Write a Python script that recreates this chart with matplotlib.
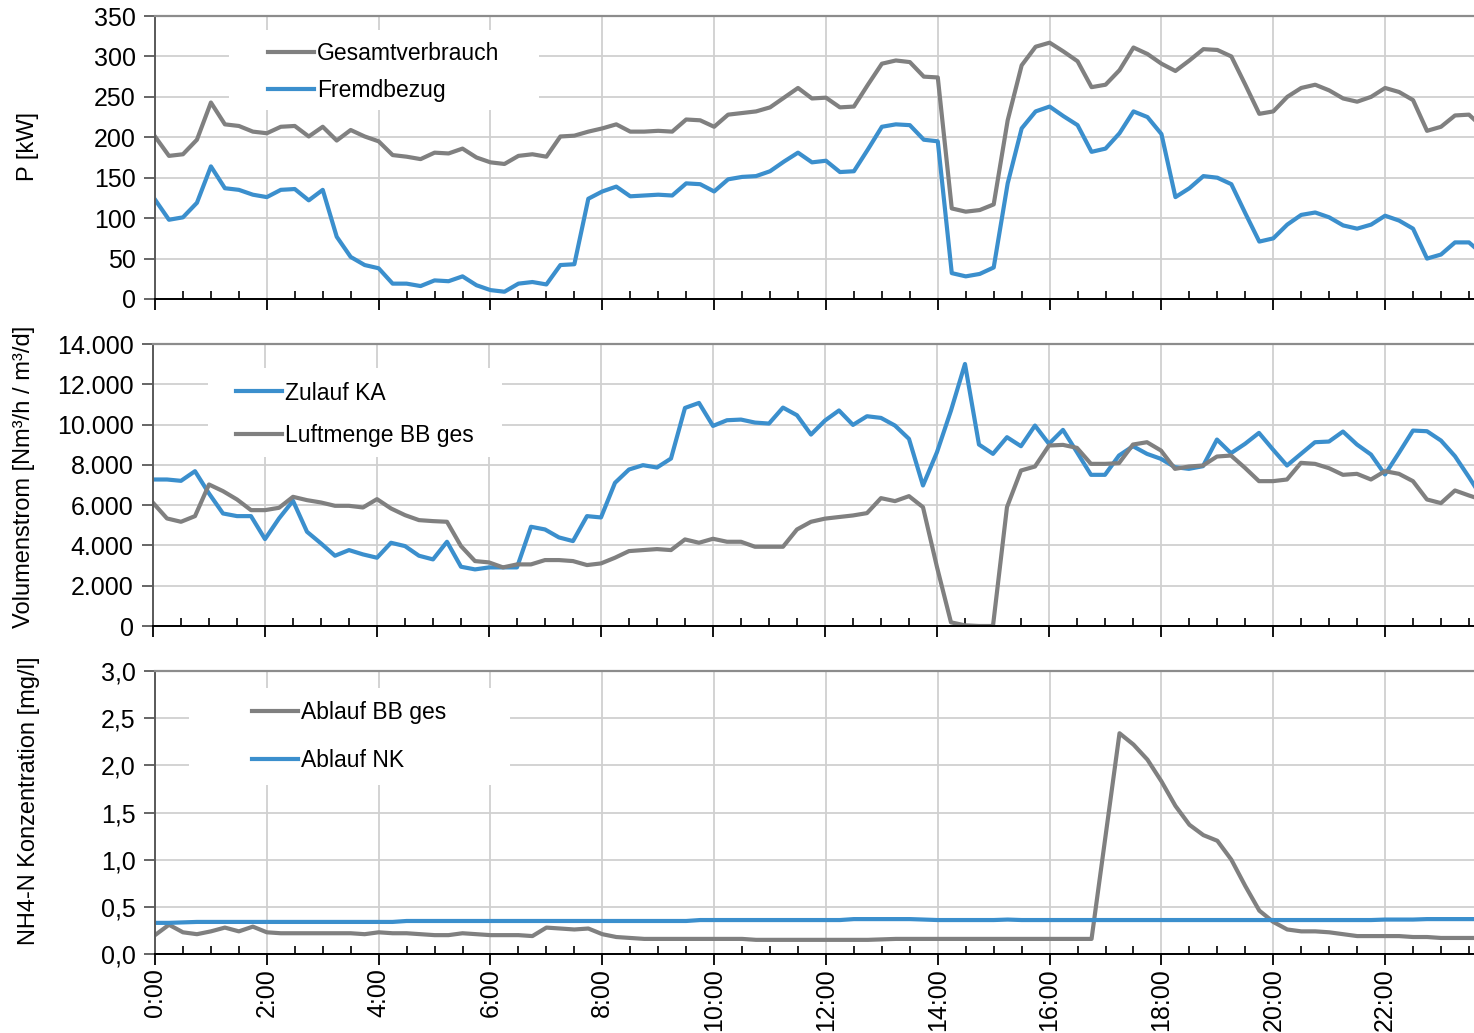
import matplotlib
matplotlib.use("Agg")
import matplotlib.pyplot as plt
import numpy as np
from matplotlib.patches import Rectangle
from matplotlib.ticker import MultipleLocator, FuncFormatter

plt.rcParams["font.family"] = ["Liberation Sans", "DejaVu Sans"]

# 15-minute values, 0:00 ... 23:45
hours = np.arange(96) * 0.25

gesamtverbrauch = [
    201, 177, 179, 197, 243, 216, 214, 207, 205, 213,
    214, 201, 213, 196, 209, 201, 195, 178, 176, 173,
    181, 180, 186, 175, 169, 167, 177, 179, 176, 201,
    202, 207, 211, 216, 207, 207, 208, 207, 222, 221,
    213, 228, 230, 232, 237, 249, 261, 248, 249, 237,
    238, 265, 291, 295, 293, 275, 274, 112, 108, 110,
    117, 221, 289, 312, 317, 306, 294, 262, 265, 283,
    311, 303, 291, 282, 295, 309, 308, 300, 265, 229,
    232, 250, 261, 265, 258, 248, 244, 250, 261, 256,
    246, 208, 213, 227, 228, 212,
]
fremdbezug = [
    123, 98, 101, 119, 164, 137, 135, 129, 126, 135,
    136, 122, 135, 77, 52, 42, 38, 19, 19, 16,
    23, 22, 28, 17, 11, 9, 19, 21, 18, 42,
    43, 124, 133, 139, 127, 128, 129, 128, 143, 142,
    133, 148, 151, 152, 158, 170, 181, 169, 171, 157,
    158, 185, 213, 216, 215, 197, 195, 32, 28, 31,
    39, 143, 211, 232, 238, 226, 215, 182, 186, 205,
    232, 225, 204, 126, 137, 152, 150, 142, 106, 71,
    75, 92, 104, 107, 101, 91, 87, 92, 103, 97,
    87, 50, 55, 70, 70, 55,
]
zulauf_ka = [
    7273, 7273, 7207, 7686, 6579, 5587, 5455, 5455, 4314, 5339,
    6215, 4678, 4099, 3488, 3769, 3554, 3389, 4132, 3967, 3488,
    3306, 4182, 2942, 2810, 2909, 2909, 2909, 4926, 4793, 4397,
    4215, 5455, 5389, 7108, 7769, 7984, 7868, 8314, 10826, 11075,
    9934, 10215, 10248, 10099, 10050, 10843, 10463, 9504, 10200, 10700,
    9984, 10414, 10331, 9951, 9290, 6976, 8629, 10695, 13009, 9009,
    8546, 9373, 8926, 9951, 9042, 9736, 8629, 7505, 7505, 8463,
    8926, 8546, 8298, 7885, 7802, 7934, 9257, 8579, 9042, 9587,
    8761, 7967, 8546, 9124, 9157, 9653, 9009, 8513, 7521, 8596,
    9703, 9670, 9207, 8430, 7389, 6300,
]
luftmenge_bb = [
    6116, 5339, 5174, 5455, 7025, 6695, 6281, 5752, 5752, 5868,
    6413, 6248, 6132, 5967, 5967, 5884, 6298, 5835, 5504, 5256,
    5207, 5174, 3967, 3223, 3157, 2909, 3058, 3058, 3273, 3273,
    3223, 3025, 3107, 3389, 3719, 3769, 3818, 3769, 4298, 4132,
    4331, 4182, 4182, 3934, 3934, 3934, 4793, 5174, 5330, 5410,
    5488, 5604, 6348, 6199, 6447, 5901, 2926, 182, 33, 0,
    0, 5901, 7719, 7918, 8959, 8992, 8844, 8050, 8050, 8083,
    9009, 9124, 8711, 7802, 7918, 7967, 8414, 8463, 7852, 7191,
    7191, 7273, 8100, 8050, 7835, 7505, 7554, 7273, 7686, 7554,
    7191, 6281, 6100, 6728, 6480, 6250,
]
ablauf_bb = [
    0.20, 0.31, 0.23, 0.21, 0.24, 0.28, 0.24, 0.29, 0.23, 0.22,
    0.22, 0.22, 0.22, 0.22, 0.22, 0.21, 0.23, 0.22, 0.22, 0.21,
    0.20, 0.20, 0.22, 0.21, 0.20, 0.20, 0.20, 0.19, 0.28, 0.27,
    0.26, 0.27, 0.21, 0.18, 0.17, 0.16, 0.16, 0.16, 0.16, 0.16,
    0.16, 0.16, 0.16, 0.15, 0.15, 0.15, 0.15, 0.15, 0.15, 0.15,
    0.15, 0.15, 0.155, 0.16, 0.16, 0.16, 0.16, 0.16, 0.16, 0.16,
    0.16, 0.16, 0.16, 0.16, 0.16, 0.16, 0.16, 0.16, 1.25, 2.34,
    2.22, 2.06, 1.83, 1.57, 1.37, 1.26, 1.20, 1.00, 0.72, 0.46,
    0.34, 0.26, 0.24, 0.24, 0.23, 0.21, 0.19, 0.19, 0.19, 0.19,
    0.18, 0.18, 0.17, 0.17, 0.17, 0.17,
]
ablauf_nk = [
    0.33, 0.33, 0.335, 0.34, 0.34, 0.34, 0.34, 0.34, 0.34, 0.34,
    0.34, 0.34, 0.34, 0.34, 0.34, 0.34, 0.34, 0.34, 0.35, 0.35,
    0.35, 0.35, 0.35, 0.35, 0.35, 0.35, 0.35, 0.35, 0.35, 0.35,
    0.35, 0.35, 0.35, 0.35, 0.35, 0.35, 0.35, 0.35, 0.35, 0.36,
    0.36, 0.36, 0.36, 0.36, 0.36, 0.36, 0.36, 0.36, 0.36, 0.36,
    0.37, 0.37, 0.37, 0.37, 0.37, 0.365, 0.36, 0.36, 0.36, 0.36,
    0.36, 0.365, 0.36, 0.36, 0.36, 0.36, 0.36, 0.36, 0.36, 0.36,
    0.36, 0.36, 0.36, 0.36, 0.36, 0.36, 0.36, 0.36, 0.36, 0.36,
    0.36, 0.36, 0.36, 0.36, 0.36, 0.36, 0.36, 0.36, 0.365, 0.365,
    0.365, 0.37, 0.37, 0.37, 0.37, 0.37,
]

GRAY = "#808080"
BLUE = "#3b8fcd"
GRID = "#d0d0d0"
TICK_FS = 18
LABEL_FS = 17
LEG_FS = 16.5

W, H = 1474, 1033
fig = plt.figure(figsize=(W / 100, H / 100), dpi=100)


def px_axes(left, top, bottom, right=W):
    return fig.add_axes([left / W, 1 - bottom / H, (right - left) / W, (bottom - top) / H])


ax1 = px_axes(155, 16, 299)
ax2 = px_axes(153, 344, 626)
ax3 = px_axes(155, 671, 954)

ax1.plot(hours, gesamtverbrauch, color=GRAY, lw=3, label="Gesamtverbrauch", zorder=2)
ax1.plot(hours, fremdbezug, color=BLUE, lw=3, label="Fremdbezug", zorder=2)

ax2.plot(hours, zulauf_ka, color=BLUE, lw=3, label="Zulauf KA", zorder=2)
ax2.plot(hours, luftmenge_bb, color=GRAY, lw=3, label="Luftmenge BB ges", zorder=2.1)

ax3.plot(hours, ablauf_bb, color=GRAY, lw=3, label="Ablauf BB ges", zorder=2)
ax3.plot(hours, ablauf_nk, color=BLUE, lw=3, label="Ablauf NK", zorder=2.1)

ax1.set_ylim(0, 350)
ax1.yaxis.set_major_locator(MultipleLocator(50))
ax1.set_ylabel("P [kW]", fontsize=LABEL_FS)
ax1.yaxis.set_label_coords(-0.088, 0.54)

ax2.set_ylim(0, 14000)
ax2.yaxis.set_major_locator(MultipleLocator(2000))
ax2.yaxis.set_major_formatter(FuncFormatter(lambda v, p: f"{v:,.0f}".replace(",", ".")))
ax2.set_ylabel("Volumenstrom [Nm³/h / m³/d]", fontsize=LABEL_FS)
ax2.yaxis.set_label_coords(-0.089, 0.528)

ax3.set_ylim(0, 3)
ax3.yaxis.set_major_locator(MultipleLocator(0.5))
ax3.yaxis.set_major_formatter(FuncFormatter(lambda v, p: f"{v:.1f}".replace(".", ",")))
ax3.set_ylabel("NH4-N Konzentration [mg/l]", fontsize=LABEL_FS)
ax3.yaxis.set_label_coords(-0.087, 0.54)

# legend boxes (white patch hides the grid) in axes fractions
legend_cfg = [
    (ax1, (0.056, 0.668, 0.235, 0.283), (0.0857, 0.909), 0.64),
    (ax2, (0.042, 0.599, 0.222, 0.316), (0.0628, 0.867), 0.87),
    (ax3, (0.026, 0.597, 0.243, 0.343), (0.0735, 0.893), 1.08),
]

for ax, box, anchor, spacing in legend_cfg:
    ax.set_xlim(0, 23.59)
    ax.xaxis.set_major_locator(MultipleLocator(2))
    ax.xaxis.set_minor_locator(MultipleLocator(0.5))
    ax.xaxis.set_major_formatter(FuncFormatter(lambda v, p: f"{int(round(v))}:00"))
    ax.set_axisbelow(True)
    ax.grid(True, which="major", color=GRID, lw=1.3)
    ax.tick_params(axis="x", which="major", direction="out", length=8, width=1.3,
                   color="black", labelsize=TICK_FS, labelrotation=90, pad=2)
    ax.tick_params(axis="x", which="minor", direction="in", length=6, width=1.2, color="black")
    ax.tick_params(axis="y", which="major", direction="out", length=8, width=1.3,
                   color="#595959", labelsize=TICK_FS, pad=6)
    ax.spines["right"].set_visible(False)
    ax.spines["top"].set_color("#8c8c8c")
    ax.spines["top"].set_linewidth(1.6)
    ax.spines["left"].set_color("#595959")
    ax.spines["left"].set_linewidth(1.4)
    ax.spines["bottom"].set_color("black")
    ax.spines["bottom"].set_linewidth(1.4)
    ax.add_patch(Rectangle(box[:2], box[2], box[3], transform=ax.transAxes,
                           facecolor="white", edgecolor="none", zorder=1))
    leg = ax.legend(loc="upper left", bbox_to_anchor=anchor, frameon=False,
                    fontsize=LEG_FS, borderpad=0, borderaxespad=0,
                    handlelength=2.0, handletextpad=0.15, labelspacing=spacing)
    leg.set_zorder(5)

ax1.tick_params(axis="x", labelbottom=False)
ax2.tick_params(axis="x", labelbottom=False)

fig.savefig("out.png", dpi=100, facecolor="white")
